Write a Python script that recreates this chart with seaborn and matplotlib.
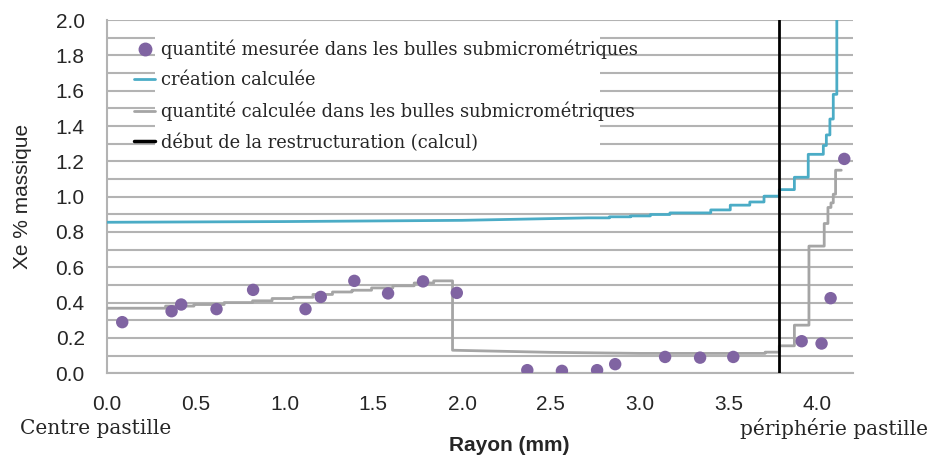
import numpy as np
import pandas as pd
import matplotlib
matplotlib.use("Agg")
import matplotlib.pyplot as plt
import seaborn as sns
from matplotlib.ticker import MultipleLocator
from matplotlib.lines import Line2D
from matplotlib.patches import Rectangle

# ==========================
# Data
# ==========================
# measured Xe in sub-micrometric bubbles (points)
mes_rayon = [0.086, 0.364, 0.418, 0.617, 0.823, 1.118, 1.204, 1.393, 1.583, 1.78, 1.97,
             2.367, 2.562, 2.76, 2.862, 3.143, 3.34, 3.527, 3.912, 4.024, 4.075, 4.152]
mes_xe = [0.289, 0.351, 0.389, 0.363, 0.472, 0.363, 0.432, 0.523, 0.452, 0.52, 0.455,
          0.017, 0.013, 0.017, 0.051, 0.092, 0.088, 0.092, 0.181, 0.168, 0.425, 1.214]

# calculated creation: radius, value, and whether it jumps (1) or slides (0) to the next one
crea_rayon = [0.0, 1.0, 2.0, 2.71, 2.83, 2.95, 3.06, 3.17, 3.40, 3.51, 3.62, 3.70,
              3.786, 3.871, 3.949, 4.034, 4.051, 4.071, 4.09, 4.11]
crea_xe = [0.855, 0.859, 0.866, 0.880, 0.886, 0.891, 0.899, 0.908, 0.925, 0.952,
           0.970, 1.003, 1.04, 1.11, 1.24, 1.29, 1.35, 1.44, 1.58, 2.10]
crea_saut = [0, 0, 0, 1, 1, 1, 1, 1, 1, 1, 1, 1, 1, 1, 1, 1, 1, 1, 1, 1]

# calculated quantity in sub-micrometric bubbles
bulles_rayon = [0.0, 0.33, 0.49, 0.66, 0.82, 0.93, 1.05, 1.16, 1.27, 1.38, 1.49, 1.61,
                1.73, 1.84, 1.946, 2.5, 3.0, 3.706, 3.786, 3.871, 3.953, 4.039,
                4.06, 4.077, 4.09, 4.103, 4.135]
bulles_xe = [0.368, 0.38, 0.389, 0.40, 0.41, 0.423, 0.43, 0.446, 0.46, 0.47, 0.483, 0.495,
             0.511, 0.523, 0.13, 0.118, 0.112, 0.119, 0.155, 0.272, 0.72, 0.848,
             0.939, 0.965, 1.014, 1.15, 1.15]
bulles_saut = [1, 1, 1, 1, 1, 1, 1, 1, 1, 1, 1, 1, 1, 1, 0, 0, 1, 1, 1, 1, 1, 1,
               1, 1, 1, 1, 1]

# start of restructuring (calculation)
debut_restructuration = 3.786


def sommets(rayon, xe, saut):
    # turn the step description into the vertices of the drawn curve
    xs, ys = [], []
    for i in range(len(rayon)):
        xs.append(rayon[i])
        ys.append(xe[i])
        if i + 1 < len(rayon) and saut[i]:
            xs.append(rayon[i + 1])
            ys.append(xe[i])
    return pd.DataFrame({"Rayon": xs, "Xe": ys})


# ==========================
# Colours
# ==========================
purple = "#8064A2"
aqua = "#4BACC6"
grey = "#A5A5A5"
grid_grey = "#B3B3B3"

sns.set_style("white")
plt.rcParams["font.family"] = ["Liberation Sans", "DejaVu Sans"]

fig = plt.figure(figsize=(9.3, 4.59), dpi=100)
ax = fig.add_axes([0.115, 0.187, 0.802, 0.769])

# gridlines every 0.1
ax.yaxis.set_major_locator(MultipleLocator(0.2))
ax.yaxis.set_minor_locator(MultipleLocator(0.1))
ax.xaxis.set_major_locator(MultipleLocator(0.5))
ax.grid(True, which="both", axis="y", color=grid_grey, linewidth=1.5, zorder=0)
ax.set_axisbelow(True)

# white legend area hiding the gridlines (as in the original spreadsheet chart)
ax.add_patch(Rectangle((0.064, 0.618), 0.597, 0.36, transform=ax.transAxes,
                       facecolor="white", edgecolor="none", zorder=1))

df_crea = sommets(crea_rayon, crea_xe, crea_saut)
df_bulles = sommets(bulles_rayon, bulles_xe, bulles_saut)
df_mes = pd.DataFrame({"Rayon": mes_rayon, "Xe": mes_xe})

sns.lineplot(data=df_crea, x="Rayon", y="Xe", ax=ax, color=aqua, linewidth=2,
             estimator=None, sort=False, zorder=3)
sns.lineplot(data=df_bulles, x="Rayon", y="Xe", ax=ax, color=grey, linewidth=2,
             estimator=None, sort=False, zorder=3)
ax.axvline(debut_restructuration, color="black", linewidth=2, zorder=4)
sns.scatterplot(data=df_mes, x="Rayon", y="Xe", ax=ax, color=purple, s=80,
                edgecolor="none", zorder=5)

ax.set_xlim(0, 4.2)
ax.set_ylim(0, 2.0)

# spines
for side in ["top", "right"]:
    ax.spines[side].set_visible(False)
for side in ["left", "bottom"]:
    ax.spines[side].set_color(grid_grey)
    ax.spines[side].set_linewidth(1.5)

ax.tick_params(axis="both", which="both", direction="out", color=grid_grey,
               length=4, width=1.2, labelsize=15)
ax.tick_params(axis="x", which="major", pad=12)
ax.tick_params(axis="y", which="major", pad=12)
ax.set_yticklabels([f"{v:.1f}" for v in ax.get_yticks()])
ax.set_xticklabels([f"{v:.1f}" for v in ax.get_xticks()])

ax.set_xlabel("Rayon (mm)", fontsize=15, fontweight="bold")
ax.xaxis.set_label_coords(0.54, -0.178)
ax.set_ylabel("Xe % massique", fontsize=15)
ax.yaxis.set_label_coords(-0.1, 0.5)

# pellet annotations
fig.text(0.022, 0.066, "Centre pastille", fontsize=14.5, family="DejaVu Serif",
         ha="left", va="center")
fig.text(0.998, 0.066, "périphérie pastille", fontsize=14.5, family="DejaVu Serif",
         ha="right", va="center")

# legend
handles = [
    Line2D([], [], marker="o", linestyle="none", color=purple, markersize=9),
    Line2D([], [], color=aqua, linewidth=2),
    Line2D([], [], color=grey, linewidth=2),
    Line2D([], [], color="black", linewidth=2.5),
]
labels = [
    "quantité mesurée dans les bulles submicrométriques",
    "création calculée",
    "quantité calculée dans les bulles submicrométriques",
    "début de la restructuration (calcul)",
]
leg = ax.legend(handles, labels, loc="upper left", bbox_to_anchor=(0.036, 0.945),
                frameon=False, handlelength=1.2, handletextpad=0.33,
                labelspacing=0.68, borderpad=0, borderaxespad=0,
                prop={"family": "DejaVu Serif", "size": 12.9})
leg.set_zorder(6)

plt.savefig("out.png", dpi=100)
plt.close()
